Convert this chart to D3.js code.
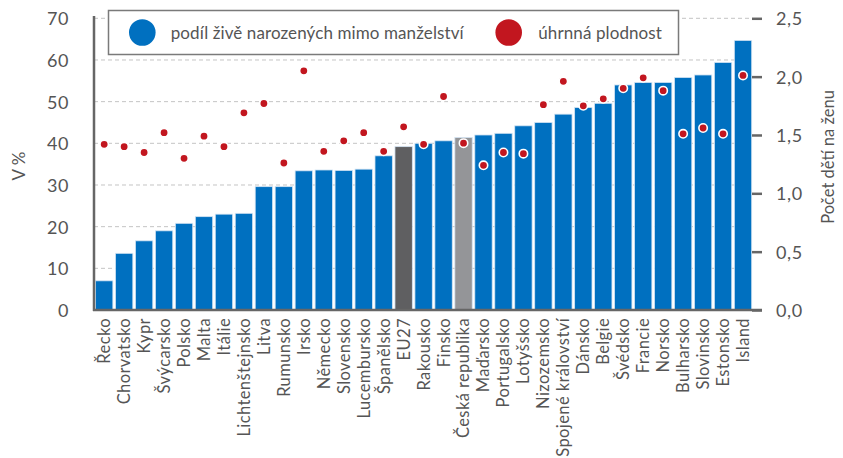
<!DOCTYPE html>
<html>
<head>
<meta charset="utf-8">
<script src="https://cdn.jsdelivr.net/npm/d3@7"></script>
<style>
  body { margin: 0; background: #fff; }
  svg text { font-family: Lato, "Noto Sans", sans-serif; fill: #555; }
</style>
</head>
<body>
<div id="chart"></div>
<script>
// země seřazené podle podílu dětí narozených mimo manželství
var countries = ["Řecko", "Chorvatsko", "Kypr", "Švýcarsko", "Polsko", "Malta", "Itálie",
	"Lichtenštejnsko", "Litva", "Rumunsko", "Irsko", "Německo", "Slovensko", "Lucembursko",
	"Španělsko", "EU27", "Rakousko", "Finsko", "Česká republika", "Maďarsko", "Portugalsko",
	"Lotyšsko", "Nizozemsko", "Spojené království", "Dánsko", "Belgie", "Švédsko", "Francie",
	"Norsko", "Bulharsko", "Slovinsko", "Estonsko", "Island"];

// podíl živě narozených mimo manželství (%)
var outsideMarriage = [7.0, 13.6, 16.6, 19.0, 20.8, 22.4, 23.0, 23.2, 29.6, 29.6, 33.4, 33.6,
	33.5, 33.8, 37.0, 39.2, 40.0, 40.6, 41.4, 42.0, 42.4, 44.2, 45.0, 47.0, 48.6, 49.6, 54.0,
	54.6, 54.6, 55.8, 56.4, 59.4, 64.7];

// úhrnná plodnost
var fertility = [1.42, 1.40, 1.35, 1.52, 1.30, 1.49, 1.40, 1.69, 1.77, 1.26, 2.05, 1.36, 1.45,
	1.52, 1.36, 1.57, 1.42, 1.83, 1.43, 1.24, 1.35, 1.34, 1.76, 1.96, 1.75, 1.81, 1.90, 1.99,
	1.88, 1.51, 1.56, 1.51, 2.01];

var leftTicks = [0, 10, 20, 30, 40, 50, 60, 70];
var rightTicks = [0, 0.5, 1, 1.5, 2, 2.5];
var legendLabels = ["podíl živě narozených mimo manželství", "úhrnná plodnost"];

var width = 843, height = 458;
var blue = "#0070c0", red = "#c2161f", axisGray = "#666";

var svg = d3.select("#chart").append("svg")
	.attr("width", width)
	.attr("height", height);

var x = d3.scaleBand()
	.domain(countries)
	.range([94.5, 752.7])
	.paddingInner(0.13)
	.paddingOuter(0.05);

var yLeft = d3.scaleLinear().domain([0, 70]).range([310, 18.3]);
var yRight = d3.scaleLinear().domain([0, 2.5]).range([310, 18.3]);

// mřížka
svg.append("g")
	.selectAll("line")
	.data(leftTicks.slice(1))
	.enter().append("line")
	.attr("x1", 94).attr("x2", 752)
	.attr("y1", function(d){ return yLeft(d); })
	.attr("y2", function(d){ return yLeft(d); })
	.attr("stroke", "#c4c4c4")
	.attr("stroke-dasharray", "4,3");

// sloupce
svg.append("g")
	.selectAll("rect")
	.data(outsideMarriage)
	.enter().append("rect")
	.attr("x", function(d, i){ return x(countries[i]); })
	.attr("y", function(d){ return yLeft(d); })
	.attr("width", x.bandwidth())
	.attr("height", function(d){ return yLeft(0) - yLeft(d); })
	.attr("fill", function(d, i){
		if (countries[i] === "EU27") return "#5f5f61";
		if (countries[i] === "Česká republika") return "#949598";
		return blue;
	})
	.attr("stroke", "#d4e4f3")
	.attr("stroke-width", 0.8);

// levá osa
var leftAxis = svg.append("g")
	.attr("transform", "translate(94,0)")
	.call(d3.axisLeft(yLeft).tickValues(leftTicks).tickSize(0).tickPadding(25));
leftAxis.select(".domain").remove();
leftAxis.selectAll("text").style("font-size", "18px").style("letter-spacing", "0.6px").attr("dy", "0.36em");

svg.append("line")
	.attr("x1", 94).attr("x2", 94)
	.attr("y1", 16).attr("y2", 311)
	.attr("stroke", axisGray).attr("stroke-width", 2.5);

// pravá osa
var rightAxis = svg.append("g")
	.attr("transform", "translate(752,0)")
	.call(d3.axisRight(yRight).tickValues(rightTicks).tickSize(10).tickPadding(14)
		.tickFormat(function(d){ return d3.format(".1f")(d).replace(".", ","); }));
rightAxis.select(".domain").remove();
rightAxis.selectAll("line").attr("stroke", axisGray).attr("stroke-width", 2.5);
rightAxis.selectAll("text").style("font-size", "18px").style("letter-spacing", "0.6px").attr("dy", "0.36em");

// spodní osa
var bottomAxis = svg.append("g")
	.attr("transform", "translate(0,310)")
	.call(d3.axisBottom(x).tickSize(0).tickPadding(0));
bottomAxis.select(".domain").remove();
bottomAxis.selectAll("text")
	.style("font-size", "16.5px")
	.style("letter-spacing", "0.4px")
	.attr("text-anchor", "end")
	.attr("transform", "rotate(-90)")
	.attr("x", -8)
	.attr("y", 0)
	.attr("dy", "0.36em");

svg.append("line")
	.attr("x1", 93).attr("x2", 762)
	.attr("y1", 310).attr("y2", 310)
	.attr("stroke", axisGray).attr("stroke-width", 2.5);

// body plodnosti
svg.append("g")
	.selectAll("circle")
	.data(fertility)
	.enter().append("circle")
	.attr("cx", function(d, i){ return x(countries[i]) + x.bandwidth() / 2; })
	.attr("cy", function(d){ return yRight(d); })
	.attr("r", 4.2)
	.attr("fill", red)
	.attr("stroke", "#fff")
	.attr("stroke-width", 1.6);

// názvy os
svg.append("text")
	.attr("transform", "translate(19,166) rotate(-90)")
	.attr("text-anchor", "middle")
	.attr("dy", "0.36em")
	.style("font-size", "17px")
	.text("V %");

svg.append("text")
	.attr("transform", "translate(828,157) rotate(-90)")
	.attr("text-anchor", "middle")
	.attr("dy", "0.36em")
	.style("font-size", "16.5px")
	.text("Počet dětí na ženu");

// legenda
var legend = svg.append("g");
legend.append("rect")
	.attr("x", 108.5).attr("y", 10.5)
	.attr("width", 570).attr("height", 44)
	.attr("fill", "#fff")
	.attr("stroke", "#7a7a7a")
	.attr("stroke-width", 1.5);

var legendItems = [
	{cx: 142.3, tx: 170.7, color: blue},
	{cx: 508.7, tx: 538.3, color: red}
];
legendItems.forEach(function(item, i){
	legend.append("circle")
		.attr("cx", item.cx).attr("cy", 32.5).attr("r", 13.3)
		.attr("fill", item.color);
	legend.append("text")
		.attr("x", item.tx).attr("y", 32.5)
		.attr("dy", "0.36em")
		.style("font-size", "17px")
		.style("letter-spacing", "0.1px")
		.text(legendLabels[i]);
});
</script>
</body>
</html>
